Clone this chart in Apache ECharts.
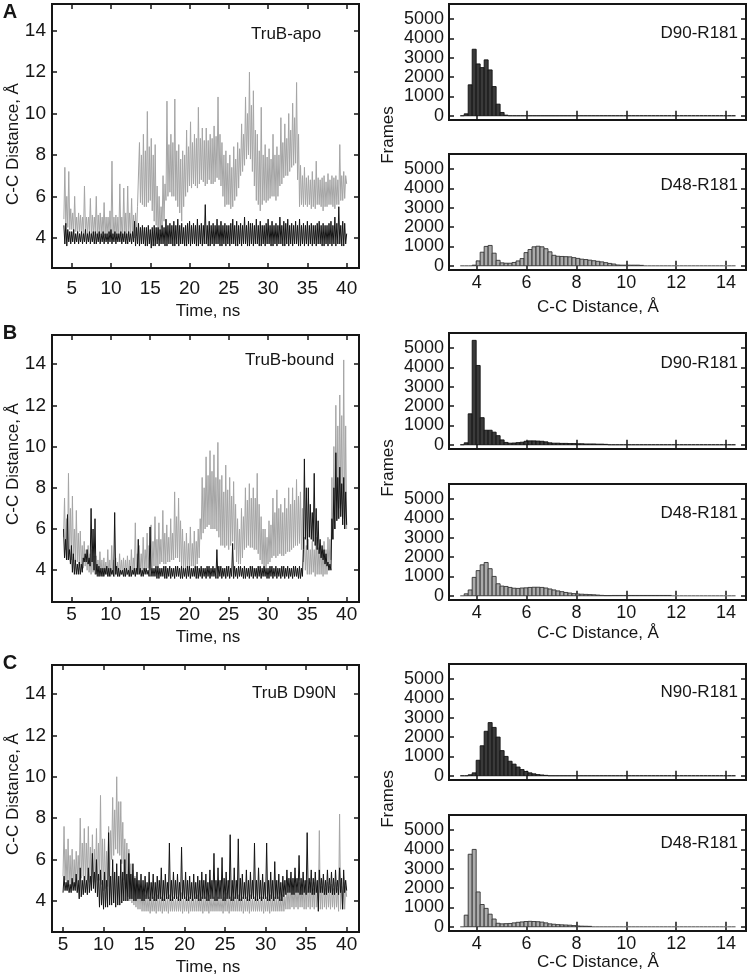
<!DOCTYPE html>
<html>
<head>
<meta charset="utf-8">
<script src="https://cdn.jsdelivr.net/npm/echarts@6/dist/echarts.min.js"></script>
<style>html,body{margin:0;padding:0;background:#fff}#c{width:750px;height:979px}</style>
</head>
<body>
<div id="c"></div>
<script>
// ---------------- DATA ----------------
const timeStep = 0.125;
const apoStart = 4.0, boundStart = 4.0, d90nStart = 5.0;
const timeTicks = [5, 10, 15, 20, 25, 30, 35, 40];
const distTicks = [4, 6, 8, 10, 12, 14];
const frameTicks = [0, 1000, 2000, 3000, 4000, 5000];
const histDistTicks = [4, 6, 8, 10, 12, 14];

// TruB-apo  (grey = D48-R181, black = D90-R181), one row per ns
const apoD48 = [
 4.9,7.4,4.6,6.0,4.5,7.2,4.4,5.4, 4.4,5.2,4.3,6.0,4.3,5.0,4.2,5.2, 4.3,5.1,4.2,5.0,4.2,6.5,4.3,5.0, 4.2,5.0,4.3,5.9,4.1,5.1,4.2,5.0,
 4.3,6.0,4.1,5.1,4.1,5.2,4.2,5.0, 4.2,5.7,4.1,5.0,4.1,5.0,4.2,5.3, 4.0,7.7,4.1,5.0,4.1,5.1,4.0,5.0, 4.0,6.6,4.1,5.0,4.1,6.4,4.0,5.2,
 4.0,6.5,4.1,5.2,4.2,5.9,4.1,5.1, 4.0,5.2,4.1,5.5,5.5,8.6,5.7,8.0, 5.6,9.0,5.5,8.2,5.5,10.1,5.7,8.4, 5.8,8.8,5.3,8.0,4.8,8.5,4.6,6.5,
 3.9,6.0,4.1,5.5,4.5,7.0,4.8,6.6, 5.8,10.6,6.0,8.5,6.2,9.0,6.0,8.6, 6.0,10.7,5.8,8.2,5.5,8.5,5.2,7.8, 4.8,8.2,5.5,8.0,6.0,9.2,6.2,8.4,
 6.5,9.6,6.4,8.6,6.6,9.0,6.5,8.8, 6.4,10.3,6.6,8.8,6.8,9.3,6.7,8.7, 6.5,9.3,6.6,8.7,6.8,9.0,6.6,8.8, 6.6,9.4,6.7,8.9,6.9,10.8,6.8,9.0,
 6.5,8.6,6.0,8.0,5.5,8.2,5.6,7.6, 5.6,8.0,5.4,7.4,5.5,8.4,5.8,7.8, 6.0,8.6,6.4,8.3,7.0,9.5,7.2,9.0, 7.5,10.8,7.8,10.0,8.0,12.0,7.8,10.4,
 7.2,11.1,6.5,9.2,5.8,9.0,5.6,8.2, 5.3,10.3,5.6,8.0,5.8,8.5,5.7,7.9, 5.8,8.3,5.9,7.8,6.0,9.0,6.0,8.0, 5.8,8.4,6.0,8.0,6.5,9.8,6.6,8.6,
 6.9,9.5,7.0,8.8,7.0,10.0,7.2,9.2, 7.4,10.5,7.5,9.8,7.6,11.5,6.8,9.0, 5.5,7.5,5.6,7.0,5.5,7.4,5.6,6.9, 5.5,7.0,5.6,6.8,5.4,7.2,5.5,6.8,
 5.4,7.7,5.6,6.9,5.6,6.8,5.5,6.9, 5.3,7.0,5.5,6.7,5.5,7.1,5.6,6.8, 5.6,7.0,5.5,6.9,5.4,7.0,5.6,6.8, 5.6,8.5,5.8,7.0,5.8,7.2,5.9,7.0,
 6.6];
const apoD90 = [
 4.6,3.7,4.7,3.6,4.4,3.8,4.3,3.7, 4.3,3.8,4.4,3.7,4.2,3.8,4.3,3.7, 4.2,3.8,4.3,3.7,4.2,3.8,4.4,3.7, 4.2,3.8,4.3,3.7,4.2,3.8,4.3,3.7,
 4.3,3.7,4.2,3.8,4.3,3.7,4.2,3.8, 4.3,3.7,4.2,3.8,4.2,3.7,4.3,3.8, 4.4,3.7,4.2,3.8,4.3,3.7,4.2,3.8, 4.2,3.8,4.3,3.7,4.2,3.8,4.3,3.7,
 4.2,3.7,4.3,3.8,4.2,3.7,4.3,3.8, 4.8,3.6,4.5,3.7,4.7,3.6,4.5,3.7, 4.6,3.7,4.5,3.6,4.5,3.6,4.6,3.7, 4.4,3.5,4.5,3.6,4.6,3.6,4.5,3.7,
 4.5,3.6,4.4,3.7,4.6,3.7,4.5,3.6, 4.9,3.6,4.6,3.7,4.7,3.7,4.6,3.6, 4.8,3.6,4.6,3.7,4.9,3.6,4.6,3.7, 4.7,3.7,4.5,3.6,4.6,3.6,4.7,3.7,
 4.8,3.6,4.6,3.7,4.7,3.7,4.6,3.6, 4.9,3.6,4.6,3.7,4.7,3.6,4.6,3.7, 5.6,3.7,4.6,3.6,4.8,3.6,4.6,3.7, 4.7,3.6,4.6,3.7,4.9,3.7,4.6,3.6,
 4.8,3.6,4.6,3.7,4.7,3.6,4.6,3.7, 4.6,3.6,4.7,3.7,4.9,3.7,4.6,3.6, 4.8,3.6,4.6,3.7,4.7,3.6,4.6,3.7, 5.0,3.7,4.6,3.6,4.8,3.6,4.7,3.7,
 4.7,3.6,4.6,3.7,4.9,3.7,4.6,3.6, 4.8,3.6,4.6,3.7,4.6,3.6,4.7,3.7, 4.9,3.7,4.6,3.6,4.8,3.6,4.6,3.7, 4.7,3.6,4.6,3.7,5.0,3.7,4.6,3.6,
 4.8,3.6,4.7,3.7,4.9,3.6,4.6,3.7, 4.7,3.6,4.6,3.7,4.8,3.7,4.6,3.6, 4.9,3.6,4.6,3.7,4.7,3.6,4.6,3.7, 4.8,3.6,4.6,3.7,4.7,3.6,4.6,3.7,
 4.6,3.6,4.7,3.7,4.8,3.7,4.6,3.6, 4.7,3.6,4.6,3.7,4.6,3.6,4.7,3.7, 4.8,3.6,4.6,3.7,5.0,3.6,4.7,3.7, 5.5,3.7,4.6,3.6,4.8,3.6,4.7,3.7,
 4.2];

// TruB-bound
const boundD48 = [
 5.6,7.5,5.0,6.5,4.5,8.7,4.8,7.0, 4.5,7.6,4.6,6.0,4.3,6.9,4.4,5.8, 4.2,5.9,4.3,5.2,4.1,5.4,4.2,5.0, 4.0,5.2,3.9,4.8,3.8,5.0,3.9,4.7,
 3.8,4.7,3.7,4.5,3.7,4.9,3.8,4.5, 3.7,4.6,3.8,4.4,3.8,5.0,3.7,4.5, 3.7,5.2,3.8,4.5,3.7,4.6,3.8,4.4, 3.7,4.8,3.8,4.5,3.8,4.6,3.7,4.5,
 3.8,4.7,3.7,4.5,3.7,5.0,3.8,4.6, 3.8,6.3,3.8,4.8,3.8,5.2,3.9,4.8, 3.9,5.6,4.0,5.0,4.0,5.8,4.1,5.2, 4.0,6.2,4.1,5.4,4.2,6.6,4.2,5.5,
 4.2,6.3,4.3,5.5,4.4,6.9,4.3,5.8, 4.3,6.2,4.4,5.6,4.4,6.5,4.5,5.8, 4.5,7.8,4.6,6.6,4.6,7.5,4.4,6.4, 4.2,6.0,4.1,5.4,4.0,5.8,4.1,5.3,
 4.1,6.1,4.2,5.3,4.2,5.9,4.2,5.4, 4.3,6.0,4.6,6.5,5.5,8.5,5.8,8.0, 6.0,9.5,6.1,8.6,6.2,9.8,6.0,8.8, 6.0,9.6,6.0,8.5,5.9,10.2,5.6,8.4,
 5.2,8.6,5.2,7.8,5.1,9.1,5.2,7.9, 5.0,8.5,5.2,7.6,5.4,8.3,5.0,7.2, 4.4,6.5,4.3,6.0,4.3,7.0,4.6,6.6, 5.0,8.0,5.1,7.4,5.2,8.2,5.1,7.5,
 5.1,8.0,5.0,7.5,5.0,8.7,4.8,7.2, 4.5,6.6,4.3,6.0,4.0,6.0,4.1,5.6, 4.3,6.4,4.4,6.2,4.6,7.5,4.7,6.8, 4.6,7.9,4.7,7.0,4.8,7.2,4.7,6.8,
 4.7,7.5,4.8,7.0,4.9,8.0,4.9,7.2, 5.0,8.0,5.1,7.4,5.2,8.4,5.2,7.6, 5.3,7.8,5.0,7.0,4.4,5.6,4.0,5.2, 3.8,5.5,3.8,5.0,3.8,5.4,3.9,5.0,
 3.7,5.6,3.8,5.1,3.8,5.3,3.8,5.0, 3.7,5.4,3.8,5.0,3.8,5.6,4.0,5.5, 4.5,8.5,5.5,10.0,6.0,12.0,6.5,11.0, 7.0,12.5,7.2,11.5,6.5,14.2,6.0,11.0,
 6.0];
const boundD90 = [
 6.0,4.6,5.5,4.5,6.7,4.5,5.0,4.3, 5.2,3.9,4.8,3.8,4.5,3.8,4.3,3.8, 4.4,3.8,4.3,3.9,4.6,4.4,4.8,4.4, 5.0,4.3,4.6,4.2,7.0,4.4,6.0,4.0,
 6.5,3.8,4.3,3.7,4.2,3.7,4.1,3.7, 4.1,3.7,4.1,3.8,4.2,3.7,4.1,3.7, 4.1,3.8,4.0,3.7,6.8,3.8,4.2,3.7, 4.1,3.7,4.0,3.8,4.0,3.7,4.1,3.7,
 4.1,3.8,4.0,3.7,4.2,3.7,4.0,3.8, 4.1,3.7,4.1,3.8,5.5,3.8,4.1,3.7, 4.0,3.7,4.1,3.8,4.1,3.8,4.0,3.7, 6.1,3.7,4.1,3.7,4.1,3.7,4.2,3.6,
 4.2,3.6,4.1,3.7,4.1,3.7,4.2,3.6, 4.2,3.6,4.1,3.7,4.2,3.6,4.1,3.7, 4.1,3.6,4.2,3.7,4.2,3.7,4.1,3.6, 4.2,3.6,4.1,3.7,4.1,3.6,4.2,3.7,
 4.2,3.6,4.1,3.7,4.1,3.7,4.2,3.6, 4.2,3.6,4.1,3.7,4.2,3.6,4.1,3.7, 4.1,3.6,4.2,3.7,4.2,3.6,4.1,3.7, 4.2,3.7,4.1,3.6,5.0,3.6,4.2,3.7,
 4.2,3.6,4.1,3.7,4.1,3.6,4.2,3.7, 4.2,3.6,4.1,3.7,5.3,3.6,4.2,3.7, 4.1,3.6,4.2,3.7,4.2,3.7,4.1,3.6, 4.2,3.6,4.1,3.7,4.1,3.6,4.2,3.7,
 4.2,3.6,4.1,3.7,4.1,3.6,4.2,3.7, 4.2,3.6,4.1,3.7,4.2,3.7,4.1,3.6, 4.1,3.6,4.2,3.7,4.2,3.6,4.1,3.7, 4.2,3.6,4.1,3.7,4.1,3.6,4.2,3.7,
 4.2,3.6,4.1,3.7,4.2,3.6,4.1,3.7, 4.1,3.6,4.2,3.7,4.2,3.7,4.1,3.6, 4.2,3.6,4.1,3.7,5.0,9.4,5.5,8.0, 5.0,8.0,5.6,7.2,5.5,6.8,5.4,8.7,
 5.2,7.0,5.0,6.4,4.8,5.5,4.6,5.2, 4.5,5.0,4.3,4.8,4.2,4.4,4.0,4.3, 4.0,6.5,5.5,8.0,6.0,9.7,6.4,8.5, 6.5,9.0,6.6,8.2,6.2,8.5,6.0,7.8,
 6.2];

// TruB D90N
const d90nD48 = [
 5.2,7.6,5.0,6.5,4.5,7.0,4.8,6.2, 4.6,6.5,4.7,6.0,4.8,6.4,5.0,6.2, 5.0,8.0,5.1,6.8,5.2,7.5,5.0,6.8, 5.0,7.6,4.9,6.6,4.8,7.2,4.9,6.5,
 4.9,7.5,5.0,6.8,5.0,9.1,4.8,7.0, 4.5,7.0,4.6,6.4,4.7,7.6,5.2,7.4, 6.0,9.0,6.2,8.4,6.5,10.0,6.3,8.8, 6.2,8.8,5.8,7.8,5.0,7.0,4.6,6.8,
 4.2,6.5,4.0,5.8,3.9,5.5,3.8,5.2, 3.7,5.0,3.6,4.8,3.6,4.6,3.5,4.4, 3.5,4.3,3.5,4.1,3.5,4.2,3.4,4.1, 3.5,4.2,3.5,4.1,3.4,4.3,3.5,4.1,
 3.5,4.2,3.4,4.1,3.5,4.1,3.5,4.2, 3.4,4.3,3.5,4.1,3.5,4.2,3.5,4.1, 3.5,4.2,3.5,4.1,3.5,4.4,3.4,4.1, 3.5,4.2,3.5,4.1,3.4,4.2,3.5,4.1,
 3.5,4.1,3.5,4.2,3.5,4.3,3.5,4.1, 3.5,4.2,3.4,4.1,3.5,4.2,3.5,4.1, 3.4,4.3,3.5,4.1,3.5,4.2,3.5,4.1, 3.5,4.2,3.5,4.1,3.5,4.1,3.4,4.2,
 3.5,4.4,3.5,4.1,3.4,4.2,3.5,4.1, 3.5,4.2,3.5,4.1,3.5,4.3,3.5,4.1, 3.5,4.2,3.4,4.1,3.5,4.2,3.5,4.1, 3.4,4.3,3.5,4.1,3.5,4.2,3.5,4.1,
 3.5,4.1,3.5,4.2,3.5,4.2,3.4,4.1, 3.5,4.2,3.5,4.1,3.4,4.3,3.5,4.1, 3.5,4.2,3.5,4.1,3.5,4.2,3.5,4.1, 3.5,4.3,3.5,4.2,3.6,4.8,3.6,4.6,
 3.6,4.9,3.7,4.6,3.6,4.8,3.7,4.6, 3.6,4.9,3.7,4.6,3.7,4.8,3.6,4.7, 3.6,5.0,3.7,4.7,3.6,4.9,3.7,4.6, 3.6,4.9,3.7,4.6,3.7,7.4,3.6,4.7,
 3.6,5.0,3.7,4.6,3.6,4.9,3.7,4.7, 3.6,4.8,3.7,4.6,3.6,4.9,3.7,4.6, 3.5,8.2,3.6,4.7,3.6,4.9,3.6,4.7,
 4.2];
const d90nN90 = [
 4.4,5.2,4.5,4.9,4.5,5.0,4.4,4.8, 4.4,5.1,4.5,4.9,4.5,5.3,4.4,5.0, 4.1,5.6,4.2,5.0,4.3,5.2,4.4,5.0, 4.3,5.6,4.4,5.2,4.5,6.3,4.6,5.4,
 4.4,6.0,4.2,5.3,3.7,5.5,3.8,5.0, 3.6,5.4,3.7,5.0,3.7,7.3,3.8,5.2, 3.8,6.0,3.9,5.4,3.7,5.8,3.8,5.2, 3.8,6.0,3.9,5.4,4.0,6.0,4.0,5.3,
 4.0,6.3,4.1,5.3,4.1,5.8,4.0,5.1, 4.0,5.4,4.1,5.0,4.1,5.3,4.0,5.0, 4.0,5.2,4.1,4.9,4.1,5.4,4.0,4.9, 4.1,5.3,4.0,4.9,4.0,5.2,4.1,5.0,
 4.1,5.6,4.0,5.0,4.0,5.3,4.1,4.9, 4.1,6.8,4.0,5.0,4.0,5.4,4.1,5.0, 4.1,5.3,4.0,4.9,4.0,6.6,4.1,5.0, 4.1,5.4,4.0,5.0,4.0,5.2,4.1,4.9,
 4.0,5.3,4.1,4.9,4.1,5.2,4.0,5.0, 4.0,5.4,4.1,5.0,4.1,5.3,4.0,4.9, 4.0,5.5,4.1,5.0,4.1,6.3,4.0,5.0, 4.0,5.6,4.1,5.0,4.1,6.1,4.0,5.1,
 4.0,5.4,4.1,5.0,4.1,7.2,4.0,5.0, 4.0,5.6,4.1,5.0,4.1,7.0,4.0,5.1, 4.0,5.3,4.1,4.9,4.1,5.5,4.0,5.0, 4.0,5.4,4.1,5.0,4.1,6.8,4.0,5.0,
 4.0,5.6,4.1,5.0,4.0,5.3,4.1,4.9, 4.1,6.8,4.0,5.0,4.0,5.4,4.1,5.0, 4.0,5.9,4.1,5.0,4.1,5.3,4.0,4.9, 4.0,5.2,4.2,5.0,4.3,5.5,4.4,5.1,
 4.4,5.4,4.3,5.1,4.3,5.6,4.4,5.1, 4.4,6.2,4.3,5.1,4.3,5.4,4.4,5.0, 4.3,7.3,4.4,5.1,4.4,5.5,4.3,5.1, 4.3,5.4,4.4,5.0,3.5,5.5,4.4,5.1,
 4.4,5.3,4.3,5.0,4.3,5.5,4.4,5.1, 4.4,5.4,4.3,5.1,4.3,5.5,4.4,5.0, 4.3,5.6,4.4,5.1,3.6,5.5,4.4,5.0,
 4.5];

// Histograms: 69 bins of 0.16 Å starting at 3.34 Å
const binStart = 3.34, binWidth = 0.16;
const histApoD90 = [0,100,1600,3440,2680,2490,2890,2370,1510,600,170,30,0,0,0,0,0,0,0,0,0,0,0,0,0,0,0,0,0,0,0,0,0,0,0,0,0,0,0,0,0,0,0,0,0,0,0,0,0,0,0,0,0,0,0,0,0,0,0,0,0,0,0,0,0,0,0,0,0];
const histApoD48 = [0,0,0,30,250,700,1000,1050,650,280,150,130,130,170,250,370,680,840,980,1010,980,880,720,540,490,480,470,460,420,380,340,320,290,260,230,200,160,120,90,40,30,30,30,30,30,20,0,0,0,0,0,0,0,0,0,0,0,0,0,0,0,0,0,0,0,0,0,0,0];
const histBoundD90 = [0,100,1600,5400,4100,1400,750,750,650,470,250,120,80,90,110,130,180,200,200,190,180,150,100,80,80,70,70,60,60,50,50,40,40,40,30,30,20,0,0,0,0,0,0,0,0,0,0,0,0,0,0,0,0,0,0,0,0,0,0,0,0,0,0,0,0,0,0,0,0];
const histBoundD48 = [0,100,300,950,1300,1600,1720,1400,1000,620,500,480,430,390,380,400,410,430,440,440,430,400,350,300,250,210,170,140,110,90,80,70,60,50,35,20,10,10,15,15,15,15,15,15,15,15,15,15,15,15,15,15,15,0,0,0,0,0,0,0,0,0,0,0,0,0,0,0,0];
const histD90nN90 = [0,0,50,150,800,1550,2300,2750,2500,2000,1300,1000,750,600,450,320,220,150,100,60,40,20,0,0,0,0,0,0,0,0,0,0,0,0,0,0,0,0,0,0,0,0,0,0,0,0,0,0,0,0,0,0,0,0,0,0,0,0,0,0,0,0,0,0,0,0,0,0,0];
const histD90nD48 = [0,600,3750,4000,1800,1150,950,650,400,180,150,160,170,200,230,250,270,280,270,260,240,200,150,130,110,100,90,80,60,40,30,25,20,0,0,0,0,0,0,0,0,0,0,0,0,0,0,0,0,0,0,0,0,0,0,0,0,0,0,0,0,0,0,0,0,0,0,0,0];

// ---------------- CHART ----------------
const FONT = '"Liberation Sans", Arial, sans-serif';
const INK = '#161616';
const GREY_LINE = '#a5a5a5';
const BLACK_LINE = '#141414';

function toSeries(start, vals) { return vals.map((v, i) => [start + i * timeStep, v]); }
function toBins(counts) { return counts.map((c, i) => [binStart + i * binWidth, binStart + (i + 1) * binWidth, c]); }
const plain = (v) => String(v);

const grids = [], xAxes = [], yAxes = [], series = [];

function addGrid(g, xr, yr, xTicks, yTicks, showXLabels, xFont, yFont, xMargin, yMargin) {
  const gi = grids.length;
  grids.push(Object.assign({ show: true, borderColor: INK, borderWidth: 2, backgroundColor: 'transparent' }, g));
  const tick = (vals) => ({ show: true, inside: true, length: 5, customValues: vals, lineStyle: { color: INK, width: 1.5 } });
  xAxes.push({ gridIndex: gi, type: 'value', position: 'bottom', min: xr[0], max: xr[1],
    axisLine: { show: false }, splitLine: { show: false }, axisTick: tick(xTicks),
    axisLabel: { show: showXLabels, customValues: xTicks, formatter: plain, margin: xMargin, fontFamily: FONT, fontSize: xFont, color: INK } });
  xAxes.push({ gridIndex: gi, type: 'value', position: 'top', min: xr[0], max: xr[1],
    axisLine: { show: false }, splitLine: { show: false }, axisTick: tick(xTicks), axisLabel: { show: false } });
  yAxes.push({ gridIndex: gi, type: 'value', position: 'left', min: yr[0], max: yr[1],
    axisLine: { show: false }, splitLine: { show: false }, axisTick: tick(yTicks),
    axisLabel: { show: true, customValues: yTicks, formatter: plain, margin: yMargin, fontFamily: FONT, fontSize: yFont, color: INK } });
  yAxes.push({ gridIndex: gi, type: 'value', position: 'right', min: yr[0], max: yr[1],
    axisLine: { show: false }, splitLine: { show: false }, axisTick: tick(yTicks), axisLabel: { show: false } });
  return gi;
}

function addTime(g, xr, yr, grey, black, start, xMargin) {
  const gi = addGrid(g, xr, yr, timeTicks, distTicks, true, 19, 19, xMargin, 6);
  [[grey, GREY_LINE], [black, BLACK_LINE]].forEach(([vals, col]) => {
    series.push({ type: 'line', xAxisIndex: gi * 2, yAxisIndex: gi * 2, data: toSeries(start, vals),
      showSymbol: false, symbol: 'none', silent: true, animation: false, sampling: undefined,
      lineStyle: { color: col, width: 1 }, clip: true });
  });
}

function addHist(g, counts, fill, stroke, zeroStroke, showXLabels) {
  const gi = addGrid(g, [2.89, 14.8], [-220, 5780], histDistTicks, frameTicks, showXLabels, 18, 18, 4, 5);
  series.push({ type: 'custom', xAxisIndex: gi * 2, yAxisIndex: gi * 2, data: toBins(counts), animation: false, silent: true,
    encode: { x: [0, 1], y: 2 },
    renderItem: function (params, api) {
      const p0 = api.coord([api.value(0), api.value(2)]);
      const p1 = api.coord([api.value(1), 0]);
      if (api.value(2) === 0) {
        return { type: 'line', shape: { x1: p0[0], y1: p1[1], x2: p1[0], y2: p1[1] },
          style: { stroke: zeroStroke, lineWidth: 1.3 } };
      }
      return { type: 'rect', shape: { x: p0[0], y: p0[1], width: p1[0] - p0[0], height: p1[1] - p0[1] },
        style: { fill: fill, stroke: stroke, lineWidth: 0.9 } };
    } });
}

const HL = 449, HW = 297, HH = 116;
const DARK = '#3a3a3a', LIGHT = '#ababab';

// Row A
addTime({ left: 52, top: 4, width: 307, height: 264 }, [2.49, 41.57], [2.54, 15.29], apoD48, apoD90, apoStart, 11);
addHist({ left: HL, top: 4, width: HW, height: HH }, histApoD90, DARK, '#111', '#222', false);
addHist({ left: HL, top: 154, width: HW, height: HH }, histApoD48, LIGHT, '#333', '#777', true);
// Row B
addTime({ left: 52, top: 335, width: 307, height: 267 }, [2.53, 41.57], [2.46, 15.41], boundD48, boundD90, boundStart, 3);
addHist({ left: HL, top: 333, width: HW, height: HH }, histBoundD90, DARK, '#111', '#222', false);
addHist({ left: HL, top: 484, width: HW, height: HH }, histBoundD48, LIGHT, '#333', '#777', true);
// Row C
addTime({ left: 52, top: 665, width: 307, height: 267 }, [3.64, 41.52], [2.5, 15.4], d90nD48, d90nN90, d90nStart, 3);
addHist({ left: HL, top: 664, width: HW, height: HH }, histD90nN90, DARK, '#111', '#222', false);
addHist({ left: HL, top: 815, width: HW, height: HH }, histD90nD48, LIGHT, '#333', '#777', true);

function txt(text, x, y, opts) {
  return Object.assign({ type: 'text', x: x, y: y, silent: true,
    style: Object.assign({ text: text, fontFamily: FONT, fontSize: 17, fill: INK, align: 'center', verticalAlign: 'middle' }, (opts && opts.style) || {}) },
    opts && opts.rotation ? { rotation: opts.rotation } : {});
}
const R = Math.PI / 2;
const graphics = [
  txt('A', 10, 12, { style: { fontWeight: 'bold', fontSize: 20 } }),
  txt('B', 10, 333, { style: { fontWeight: 'bold', fontSize: 20 } }),
  txt('C', 10, 663, { style: { fontWeight: 'bold', fontSize: 20 } }),
  txt('C-C Distance, Å', 13, 144, { rotation: R }),
  txt('C-C Distance, Å', 13, 464, { rotation: R }),
  txt('C-C Distance, Å', 13, 794, { rotation: R }),
  txt('Time, ns', 208, 311, {}),
  txt('Time, ns', 208, 637, {}),
  txt('Time, ns', 208, 967, {}),
  txt('Frames', 388, 135, { rotation: R }),
  txt('Frames', 388, 468, { rotation: R }),
  txt('Frames', 388, 799, { rotation: R }),
  txt('C-C Distance, Å', 598, 307, {}),
  txt('C-C Distance, Å', 598, 633, {}),
  txt('C-C Distance, Å', 598, 962, {}),
  txt('TruB-apo', 251, 34, { style: { align: 'left' } }),
  txt('TruB-bound', 245, 360, { style: { align: 'left' } }),
  txt('TruB D90N', 252, 693, { style: { align: 'left' } }),
  txt('D90-R181', 738, 33, { style: { align: 'right' } }),
  txt('D48-R181', 738, 185, { style: { align: 'right' } }),
  txt('D90-R181', 738, 363, { style: { align: 'right' } }),
  txt('D48-R181', 738, 513, { style: { align: 'right' } }),
  txt('N90-R181', 738, 692, { style: { align: 'right' } }),
  txt('D48-R181', 738, 843, { style: { align: 'right' } })
];

const chart = echarts.init(document.getElementById('c'), null, { renderer: 'canvas' });
chart.setOption({
  animation: false,
  backgroundColor: '#fff',
  grid: grids, xAxis: xAxes, yAxis: yAxes, series: series,
  graphic: graphics
});
</script>
</body>
</html>
